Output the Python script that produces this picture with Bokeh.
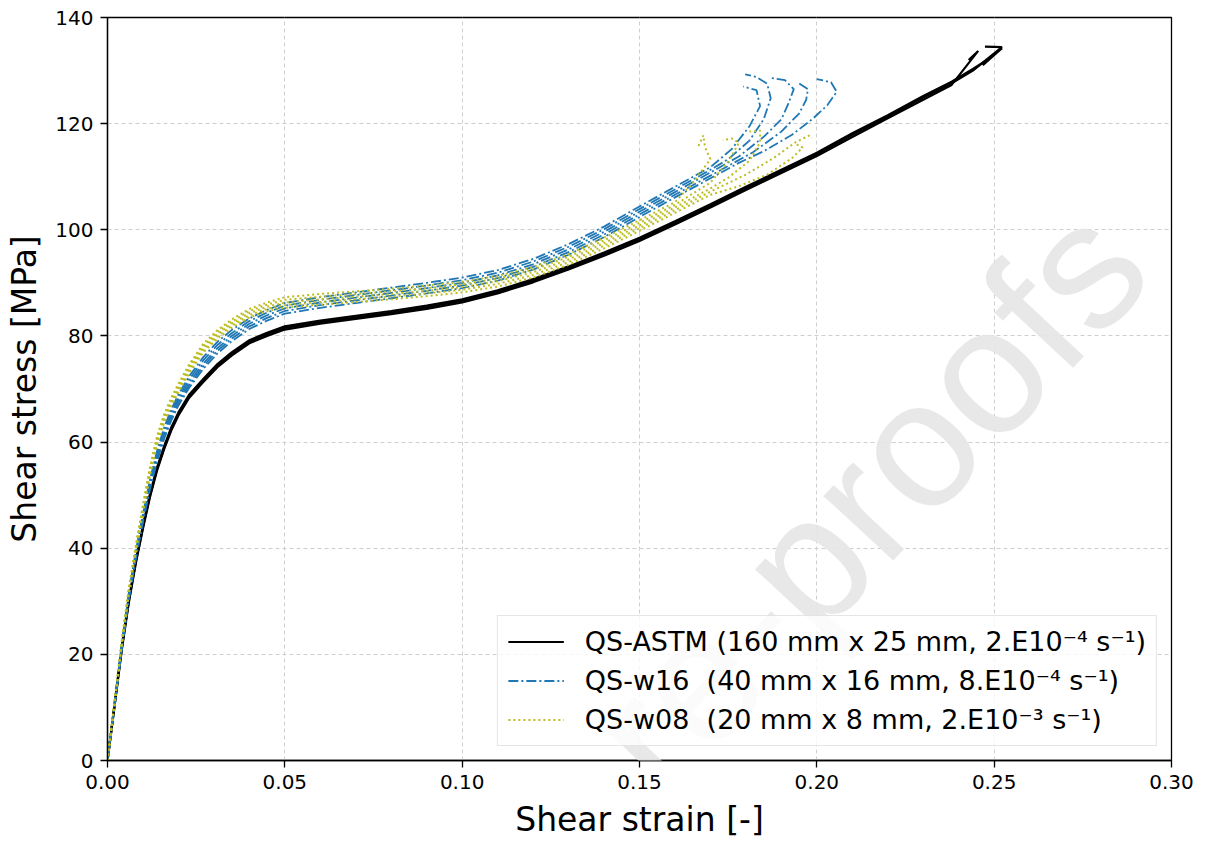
import math
from bokeh.plotting import figure
from bokeh.models import Range1d, FixedTicker, PrintfTickFormatter, Legend, LegendItem, Label
from bokeh.embed import file_html
from bokeh.resources import INLINE

# ---------------- data ----------------
x_ticks = [0.0, 0.05, 0.10, 0.15, 0.20, 0.25, 0.30]
y_ticks = [0, 20, 40, 60, 80, 100, 120, 140]

series_labels = [
    "QS-ASTM (160 mm x 25 mm, 2.E10\u207b\u2074 s\u207b\u00b9)",
    "QS-w16\u00a0 (40 mm x 16 mm, 8.E10\u207b\u2074 s\u207b\u00b9)",
    "QS-w08\u00a0 (20 mm x 8 mm, 2.E10\u207b\u00b3 s\u207b\u00b9)",
]

# common strain sampling of the loading part (0 .. 0.16)
base_strain = [0, 0.002, 0.004, 0.006, 0.008, 0.010, 0.012, 0.014, 0.016, 0.018,
               0.020, 0.023, 0.027, 0.031, 0.035, 0.040, 0.045, 0.050, 0.060, 0.070,
               0.080, 0.090, 0.100, 0.110, 0.120, 0.130, 0.140, 0.150, 0.160]

# QS-ASTM specimens
astm1_tail_strain = [0.17, 0.18, 0.19, 0.20, 0.21, 0.22, 0.23, 0.238, 0.244, 0.2522, 0.2474]
astm1_stress = [0, 10.5, 21.0, 30.0, 37.5, 44.0, 50.0, 55.0, 59.0, 62.5, 65.3, 68.6, 71.6, 74.4,
                76.6, 78.9, 80.3, 81.5, 82.6, 83.5, 84.4, 85.4, 86.6, 88.3, 90.4, 92.8, 95.4,
                98.2, 101.3, 104.5, 107.8, 111.0, 114.2, 117.9, 121.3, 124.9, 127.6, 130.0,
                134.4, 134.5]
astm2_tail_strain = [0.17, 0.18, 0.19, 0.20, 0.21, 0.22, 0.23, 0.238, 0.2455, 0.2428]
astm2_stress = [0, 10.3, 20.7, 29.7, 37.2, 43.7, 49.7, 54.7, 58.7, 62.2, 65.0, 68.3, 71.3, 74.1,
                76.3, 78.6, 80.0, 81.2, 82.3, 83.2, 84.1, 85.1, 86.3, 88.0, 90.1, 92.5, 95.1,
                97.9, 101.0, 104.2, 107.5, 110.7, 113.9, 117.5, 121.0, 124.5, 127.3, 133.7, 132.0]
astm3_tail_strain = [0.17, 0.18, 0.19, 0.20, 0.21, 0.22, 0.23, 0.238, 0.244, 0.248, 0.2522, 0.2468]
astm3_stress = [0, 10.7, 21.3, 30.3, 37.8, 44.3, 50.3, 55.3, 59.3, 62.8, 65.6, 68.9, 71.9, 74.7,
                76.9, 79.2, 80.6, 81.8, 82.9, 83.8, 84.7, 85.7, 86.9, 88.6, 90.7, 93.1, 95.7,
                98.5, 101.6, 104.8, 108.1, 111.3, 114.5, 118.2, 121.6, 125.2, 127.9, 130.3,
                132.0, 134.2, 131.0]

# QS-w16 specimens
w16_1_tail_strain = [0.170, 0.176, 0.181, 0.184, 0.183, 0.1792]
w16_1_stress = [0, 10.8, 21.8, 31.5, 39.5, 46.5, 53.0, 58.4, 62.8, 66.2, 69.0, 72.4, 76.0, 78.9,
                81.1, 83.3, 84.9, 86.2, 87.3, 88.2, 89.1, 90.0, 91.0, 92.4, 94.5, 97.3, 100.6,
                104.4, 108.1, 111.8, 115.2, 119.5, 123.3, 126.3, 127.0]
w16_2_tail_strain = [0.170, 0.175, 0.181, 0.185, 0.187, 0.186, 0.183, 0.1798]
w16_2_stress = [0, 10.6, 21.5, 31.1, 39.1, 46.1, 52.5, 57.9, 62.2, 65.6, 68.4, 71.8, 75.4, 78.3,
                80.5, 82.8, 84.4, 85.7, 86.8, 87.7, 88.6, 89.5, 90.5, 91.9, 94.0, 96.8, 100.1,
                103.9, 107.6, 111.3, 113.3, 116.8, 120.8, 124.8, 127.5, 128.8, 129.3]
w16_3_tail_strain = [0.170, 0.178, 0.185, 0.190, 0.192, 0.1935, 0.191, 0.187]
w16_3_stress = [0, 10.5, 21.3, 30.8, 38.8, 45.7, 52.1, 57.4, 61.7, 65.1, 67.9, 71.2, 74.8, 77.7,
                80.0, 82.3, 83.9, 85.2, 86.3, 87.2, 88.1, 89.0, 90.0, 91.4, 93.5, 96.3, 99.6,
                103.4, 107.1, 110.8, 113.8, 117.5, 120.8, 123.8, 126.5, 128.2, 128.6]
w16_4_tail_strain = [0.170, 0.182, 0.190, 0.195, 0.197, 0.1975, 0.1945]
w16_4_stress = [0, 10.4, 21.1, 30.5, 38.4, 45.3, 51.6, 56.9, 61.2, 64.6, 67.4, 70.7, 74.3, 77.2,
                79.5, 81.8, 83.4, 84.7, 85.8, 86.7, 87.6, 88.5, 89.5, 90.9, 93.0, 95.8, 99.1,
                102.9, 106.6, 110.2, 114.6, 118.5, 121.9, 124.5, 126.5, 127.8]
w16_5_tail_strain = [0.170, 0.178, 0.185, 0.193, 0.199, 0.203, 0.2056, 0.204, 0.200]
w16_5_stress = [0, 10.3, 20.9, 30.2, 38.0, 44.9, 51.2, 56.4, 60.7, 64.1, 66.9, 70.2, 73.8, 76.7,
                79.0, 81.3, 82.9, 84.2, 85.3, 86.2, 87.1, 88.0, 89.0, 90.4, 92.5, 95.3, 98.6,
                102.4, 106.1, 109.7, 112.6, 114.8, 117.9, 121.0, 123.5, 126.0, 127.8, 128.4]

# QS-w08 specimens
w08_1_tail_strain = [0.165, 0.170, 0.1685, 0.168, 0.1665]
w08_1_stress = [0, 11.2, 22.5, 32.5, 40.6, 48.2, 55.4, 61.2, 65.3, 68.4, 71.0, 74.6, 78.5, 81.1,
                83.1, 85.1, 86.3, 87.3, 87.9, 88.4, 88.9, 89.5, 90.2, 91.3, 93.0, 95.4, 98.5,
                101.8, 105.2, 108.8, 113.3, 115.5, 117.8, 115.6]
w08_2_tail_strain = [0.170, 0.1755, 0.178, 0.176, 0.1735]
w08_2_stress = [0, 11.1, 22.3, 32.2, 40.3, 47.8, 55.0, 60.8, 64.9, 68.0, 70.6, 74.2, 78.1, 80.7,
                82.7, 84.7, 85.9, 86.8, 87.4, 87.9, 88.4, 89.0, 89.7, 90.8, 92.5, 94.9, 98.0,
                101.3, 104.7, 108.9, 113.3, 116.4, 117.2, 116.9]
w08_3_tail_strain = [0.170, 0.175, 0.181, 0.184, 0.184, 0.181]
w08_3_stress = [0, 11.0, 22.1, 32.0, 40.0, 47.5, 54.6, 60.4, 64.5, 67.6, 70.2, 73.8, 77.7, 80.3,
                82.3, 84.3, 85.5, 86.3, 86.9, 87.4, 87.9, 88.5, 89.2, 90.3, 92.0, 94.4, 97.5,
                100.8, 104.2, 107.8, 109.8, 113.0, 116.5, 118.7, 118.5]
w08_4_tail_strain = [0.170, 0.180, 0.188, 0.194, 0.198, 0.1985]
w08_4_stress = [0, 10.9, 21.9, 31.7, 39.7, 47.1, 54.2, 60.0, 64.1, 67.2, 69.8, 73.4, 77.3, 79.9,
                81.9, 83.9, 85.1, 85.8, 86.4, 86.9, 87.4, 88.0, 88.7, 89.8, 91.5, 93.9, 97.0,
                100.3, 103.7, 107.2, 110.4, 113.6, 116.5, 117.8, 117.3]
w08_5_tail_strain = [0.170, 0.178, 0.186, 0.193, 0.196, 0.194]
w08_5_stress = [0, 10.8, 21.7, 31.4, 39.4, 46.8, 53.8, 59.6, 63.7, 66.8, 69.4, 73.0, 76.9, 79.5,
                81.5, 83.5, 84.7, 85.3, 85.9, 86.4, 86.9, 87.5, 88.2, 89.3, 91.0, 93.4, 96.5,
                99.8, 103.2, 106.6, 108.2, 110.4, 113.5, 115.5, 116.2]

watermark_text = "re-proofs"

# ---------------- figure ----------------
p = figure(width=1205, height=841, x_range=Range1d(0, 0.30), y_range=Range1d(0, 140),
           output_backend="svg", toolbar_location=None,
           min_border_left=107, min_border_right=34, min_border_top=17, min_border_bottom=78)
p.background_fill_color = "white"
p.border_fill_color = "white"
p.outline_line_color = "black"
p.outline_line_width = 1.3

astm_xs = [base_strain + astm1_tail_strain, base_strain + astm2_tail_strain,
           base_strain + astm3_tail_strain]
astm_ys = [astm1_stress, astm2_stress, astm3_stress]
w16_xs = [base_strain + w16_1_tail_strain, base_strain + w16_2_tail_strain,
          base_strain + w16_3_tail_strain, base_strain + w16_4_tail_strain,
          base_strain + w16_5_tail_strain]
w16_ys = [w16_1_stress, w16_2_stress, w16_3_stress, w16_4_stress, w16_5_stress]
w08_xs = [base_strain + w08_1_tail_strain, base_strain + w08_2_tail_strain,
          base_strain + w08_3_tail_strain, base_strain + w08_4_tail_strain,
          base_strain + w08_5_tail_strain]
w08_ys = [w08_1_stress, w08_2_stress, w08_3_stress, w08_4_stress, w08_5_stress]

r_astm = p.multi_line(xs=astm_xs, ys=astm_ys, line_color="black", line_width=2.2)
r_w16 = p.multi_line(xs=w16_xs, ys=w16_ys, line_color="#1f77b4", line_width=1.8,
                     line_dash="10 3 2 3")
r_w08 = p.multi_line(xs=w08_xs, ys=w08_ys, line_color="#bcbd22", line_width=2.0,
                     line_dash="2 3")

# faint journal watermark (light annotation kept inside the plot area)
wm = Label(x=0.214, y=49.5, text=watermark_text, angle=math.radians(47),
           text_font="Liberation Sans", text_font_size="180px", text_color="#e6e6e6",
           text_alpha=0.9, text_align="center", text_baseline="middle")
p.add_layout(wm)

# axes
for ax in (p.xaxis[0], p.yaxis[0]):
    ax.axis_line_width = 1.3
    ax.axis_line_color = "black"
    ax.major_tick_line_width = 1.3
    ax.major_tick_line_color = "black"
    ax.major_tick_out = 7
    ax.major_tick_in = 0
    ax.minor_tick_out = 0
    ax.minor_tick_in = 0
    ax.major_label_text_font = "DejaVu Sans"
    ax.major_label_text_font_size = "20px"
    ax.major_label_text_color = "black"
    ax.major_label_standoff = 7
    ax.axis_label_text_font = "DejaVu Sans"
    ax.axis_label_text_font_size = "33px"
    ax.axis_label_text_font_style = "normal"
    ax.axis_label_text_color = "black"
    ax.axis_label_standoff = 8

p.xaxis.ticker = FixedTicker(ticks=x_ticks)
p.xaxis.formatter = PrintfTickFormatter(format="%.2f")
p.yaxis.ticker = FixedTicker(ticks=y_ticks)
p.xaxis.axis_label = "Shear strain [-]"
p.yaxis.axis_label = "Shear stress [MPa]"

p.grid.grid_line_color = "#cfcfcf"
p.grid.grid_line_dash = "4 3"
p.grid.grid_line_width = 1

legend = Legend(items=[LegendItem(label=series_labels[0], renderers=[r_astm]),
                       LegendItem(label=series_labels[1], renderers=[r_w16]),
                       LegendItem(label=series_labels[2], renderers=[r_w08])],
                location="bottom_right")
legend.label_text_font = "DejaVu Sans"
legend.label_text_font_size = "27px"
legend.label_text_color = "black"
legend.glyph_width = 56
legend.glyph_height = 27
legend.label_height = 27
legend.label_standoff = 21
legend.spacing = 8
legend.padding = 10
legend.margin = 14
legend.border_line_color = "#cccccc"
legend.border_line_width = 1
legend.background_fill_color = "white"
legend.background_fill_alpha = 0.8
p.add_layout(legend)

open("out.html", "w").write(file_html(p, INLINE))
